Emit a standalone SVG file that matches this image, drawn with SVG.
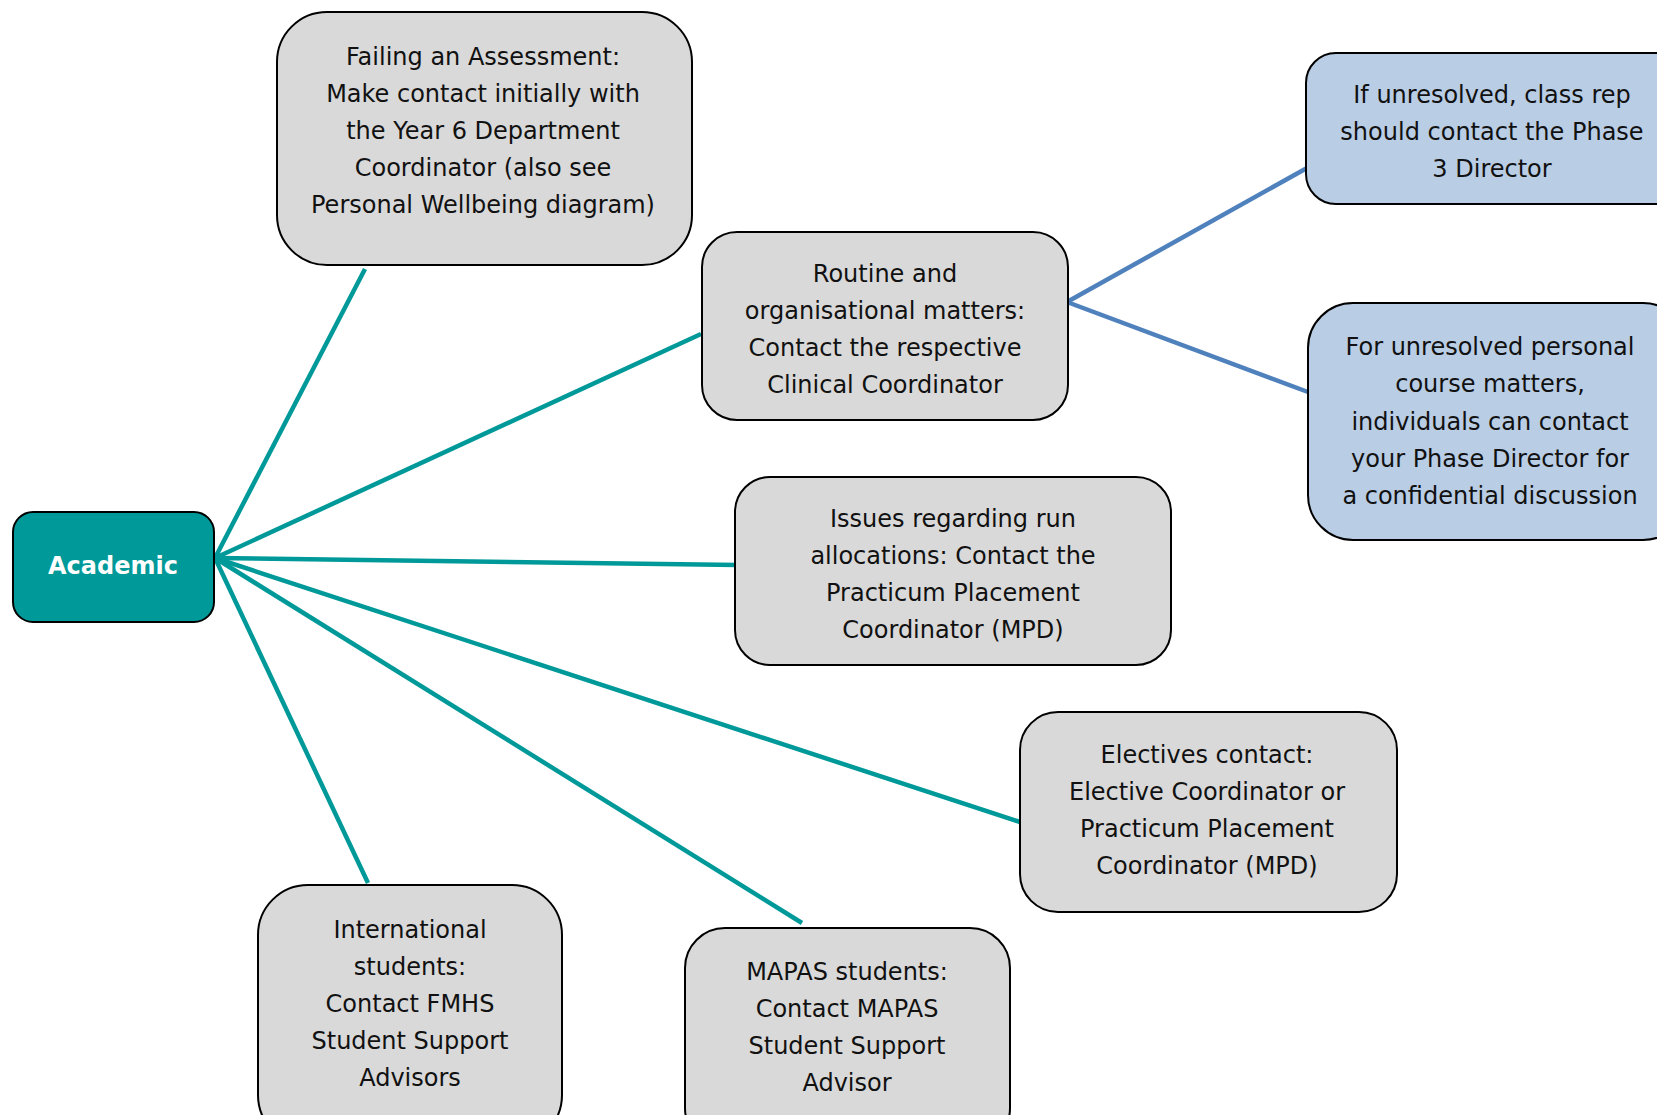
<svg xmlns="http://www.w3.org/2000/svg" width="1657" height="1115" viewBox="0 0 1657 1115">
<style>
.box{fill:#d9d9d9;stroke:#000;stroke-width:2}
.blue{fill:#b9cde5;stroke:#000;stroke-width:2}
.t{font-family:"DejaVu Sans","Liberation Sans",sans-serif;font-size:24px;fill:#111;text-anchor:middle}
.teal{stroke:#009999;stroke-width:4.5;fill:none}
.bl{stroke:#4f81bd;stroke-width:4.5;fill:none}
</style>
<rect width="1657" height="1115" fill="#fff"/>
<g id="connectors">
<line class="teal" x1="215" y1="558" x2="365" y2="269"/>
<line class="teal" x1="215" y1="558" x2="701" y2="334"/>
<line class="teal" x1="215" y1="558" x2="738" y2="565"/>
<line class="teal" x1="215" y1="558" x2="1020" y2="822"/>
<line class="teal" x1="215" y1="558" x2="802" y2="923"/>
<line class="teal" x1="215" y1="558" x2="368" y2="883"/>
<line class="bl" x1="1067" y1="302" x2="1307" y2="168"/>
<line class="bl" x1="1067" y1="302" x2="1308" y2="392"/>
</g>
<g id="academic">
<rect x="13" y="512" width="201" height="110" rx="20" fill="#009999" stroke="#000" stroke-width="2"/>
<text x="113" y="574" font-family="DejaVu Sans, Liberation Sans, sans-serif" font-size="24" font-weight="bold" fill="#fff" text-anchor="middle">Academic</text>
</g>
<g id="failing">
<rect class="box" x="277" y="12" width="415" height="253" rx="50"/>
<text class="t"><tspan x="483" y="65">Failing an Assessment:</tspan><tspan x="483" y="102">Make contact initially with</tspan><tspan x="483" y="139">the Year 6 Department</tspan><tspan x="483" y="176">Coordinator (also see</tspan><tspan x="483" y="213">Personal Wellbeing diagram)</tspan></text>
</g>
<g id="routine">
<rect class="box" x="702" y="232" width="366" height="188" rx="35"/>
<text class="t"><tspan x="885" y="282">Routine and</tspan><tspan x="885" y="319">organisational matters:</tspan><tspan x="885" y="356">Contact the respective</tspan><tspan x="885" y="393">Clinical Coordinator</tspan></text>
</g>
<g id="classrep">
<rect class="blue" x="1306" y="53" width="380" height="151" rx="30"/>
<text class="t"><tspan x="1492" y="103">If unresolved, class rep</tspan><tspan x="1492" y="140">should contact the Phase</tspan><tspan x="1492" y="177">3 Director</tspan></text>
</g>
<g id="personal">
<rect class="blue" x="1308" y="303" width="380" height="237" rx="45"/>
<text class="t"><tspan x="1490" y="355">For unresolved personal</tspan><tspan x="1490" y="392">course matters,</tspan><tspan x="1490" y="430">individuals can contact</tspan><tspan x="1490" y="467">your Phase Director for</tspan><tspan x="1490" y="504">a confidential discussion</tspan></text>
</g>
<g id="issues">
<rect class="box" x="735" y="477" width="436" height="188" rx="35"/>
<text class="t"><tspan x="953" y="527">Issues regarding run</tspan><tspan x="953" y="564">allocations: Contact the</tspan><tspan x="953" y="601">Practicum Placement</tspan><tspan x="953" y="638">Coordinator (MPD)</tspan></text>
</g>
<g id="electives">
<rect class="box" x="1020" y="712" width="377" height="200" rx="38"/>
<text class="t"><tspan x="1207" y="763">Electives contact:</tspan><tspan x="1207" y="800">Elective Coordinator or</tspan><tspan x="1207" y="837">Practicum Placement</tspan><tspan x="1207" y="874">Coordinator (MPD)</tspan></text>
</g>
<g id="international">
<rect class="box" x="258" y="885" width="304" height="260" rx="50"/>
<text class="t"><tspan x="410" y="938">International</tspan><tspan x="410" y="975">students:</tspan><tspan x="410" y="1012">Contact FMHS</tspan><tspan x="410" y="1049">Student Support</tspan><tspan x="410" y="1086">Advisors</tspan></text>
</g>
<g id="mapas">
<rect class="box" x="685" y="928" width="325" height="220" rx="40"/>
<text class="t"><tspan x="847" y="980">MAPAS students:</tspan><tspan x="847" y="1017">Contact MAPAS</tspan><tspan x="847" y="1054">Student Support</tspan><tspan x="847" y="1091">Advisor</tspan></text>
</g>
</svg>
